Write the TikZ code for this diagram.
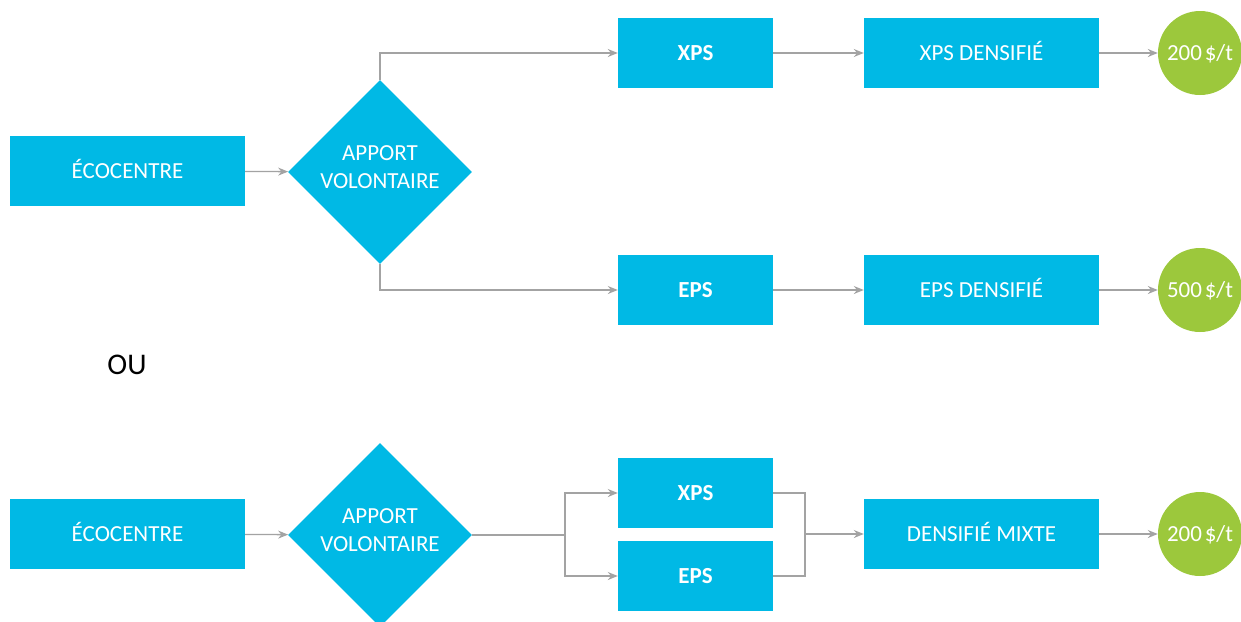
\documentclass[tikz,border=0pt]{standalone}
\usepackage{fontspec}
\setmainfont{Carlito}
\usetikzlibrary{shapes.geometric,arrows.meta}
\definecolor{boxblue}{HTML}{00B9E5}
\definecolor{circgreen}{HTML}{9CC83C}
\definecolor{linegray}{HTML}{A3A3A3}
\newcommand{\twolines}[2]{\raisebox{3pt}[\height][\depth]{\begin{tabular}{@{}c@{}}#1\\#2\end{tabular}}}
\tikzset{
  every node/.style={font=\fontsize{23}{28}\selectfont},
  bluebox/.style={fill=boxblue, text=white, minimum width=235pt, minimum height=70pt, inner sep=0pt, text height=14.8pt, text depth=0pt},
  smallbox/.style={bluebox, minimum width=155pt, font=\fontsize{23}{28}\selectfont\bfseries},
  dia/.style={diamond, fill=boxblue, text=white, minimum width=184pt, minimum height=184pt, inner sep=0pt},
  price/.style={circle, fill=circgreen, text=white, minimum size=84pt, inner sep=0pt, text height=14.8pt, text depth=0pt},
  conn/.style={draw=linegray, line width=1.3pt, -{Stealth[length=10pt,width=8pt]}},
  plain/.style={draw=linegray, line width=1.3pt}
}
\begin{document}
\begin{tikzpicture}[x=1pt,y=-1pt]
\useasboundingbox (0,0) rectangle (1241,621);
\clip (0,0) rectangle (1241,621);
% top
\node[bluebox] (eco1) at (127.5,171) {ÉCOCENTRE};
\node[dia] (dia1) at (380,172) {\twolines{APPORT}{VOLONTAIRE}};
\node[smallbox] (xps1) at (695.5,53) {XPS};
\node[bluebox] (xpsd) at (981.5,53) {XPS DENSIFIÉ};
\node[price] (p1) at (1200,53) {200\hspace{0.12em}\$/t};
\node[smallbox] (eps1) at (695.5,290) {EPS};
\node[bluebox] (epsd) at (981.5,290) {EPS DENSIFIÉ};
\node[price] (p2) at (1200,290) {500\hspace{0.12em}\$/t};
\draw[conn] (eco1) -- (dia1);
\draw[conn] (dia1.north) |- (xps1);
\draw[conn] (dia1.south) |- (eps1);
\draw[conn] (xps1) -- (xpsd);
\draw[conn] (xpsd) -- (p1);
\draw[conn] (eps1) -- (epsd);
\draw[conn] (epsd) -- (p2);
% OU
\node[font=\fontsize{30}{35}\selectfont] (ou) at (127,365) {OU};
% bottom
\node[bluebox] (eco2) at (127.5,534) {ÉCOCENTRE};
\node[dia] (dia2) at (380,535) {\twolines{APPORT}{VOLONTAIRE}};
\node[smallbox] (xps2) at (695.5,493) {XPS};
\node[smallbox] (eps2) at (695.5,576) {EPS};
\node[bluebox] (mix) at (981.5,534) {DENSIFIÉ MIXTE};
\node[price] (p3) at (1200,534) {200\hspace{0.12em}\$/t};
\coordinate (split) at (565,535);
\coordinate (join) at (805,534);
\draw[conn] (eco2) -- (dia2);
\draw[plain] (dia2.east) -- (split);
\draw[conn] (split) |- (xps2.west);
\draw[conn] (split) |- (eps2.west);
\draw[plain] (xps2.east) -| (join);
\draw[plain] (eps2.east) -| (join);
\draw[conn] (join) -- (mix.west);
\draw[conn] (mix) -- (p3);
\end{tikzpicture}
\end{document}
